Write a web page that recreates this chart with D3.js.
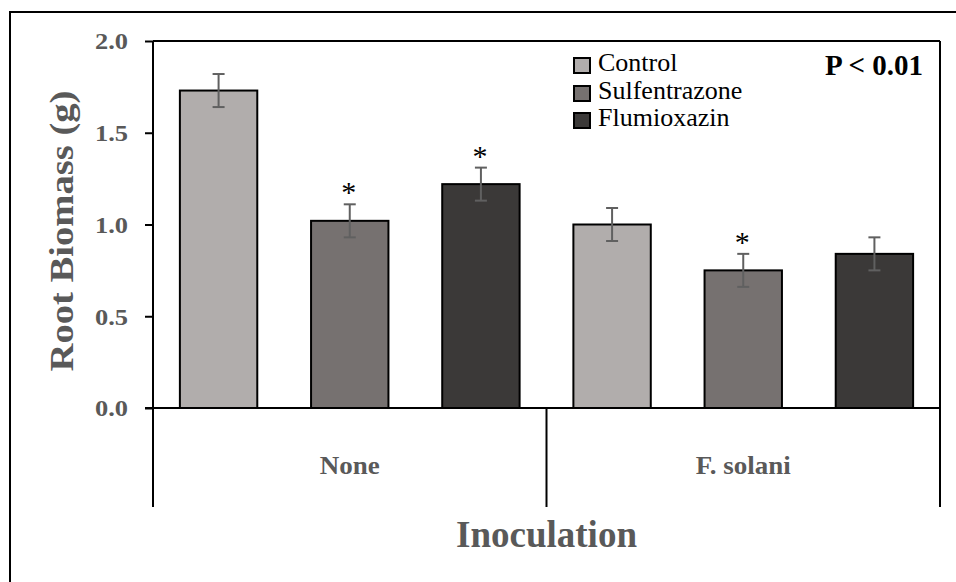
<!DOCTYPE html>
<html>
<head>
<meta charset="utf-8">
<script src="https://cdn.jsdelivr.net/npm/d3@7"></script>
<style>
  html, body { margin: 0; padding: 0; background: #fff; }
  svg { display: block; }
  svg text { font-family: "Liberation Serif", "Times New Roman", serif !important; }
</style>
</head>
<body>
<svg id="chart" width="956" height="582"></svg>
<script>
// ---- data ----
const groups = ["None", "F. solani"];
const series = ["Control", "Sulfentrazone", "Flumioxazin"];
const colors = ["#b1adac", "#767170", "#3b3938"];
const values = {
  "None":      [1.73, 1.02, 1.22],
  "F. solani": [1.00, 0.75, 0.84]
};
const errors = {
  "None":      [0.09, 0.09, 0.09],
  "F. solani": [0.09, 0.09, 0.09]
};
const significant = {
  "None":      [false, true, true],
  "F. solani": [false, true, false]
};
const yTicks = [0, 0.5, 1.0, 1.5, 2.0];
const yTitle = "Root Biomass (g)";
const xTitle = "Inoculation";
const pLabel = "P < 0.01";

// ---- layout ----
const FONT = "Liberation Serif, Times New Roman, serif";
const svg = d3.select("#chart");
const plotLeft = 153, plotRight = 940, plotTop = 41, zeroY = 408, bottomCat = 507;

// outer frame (right/bottom lie outside the picture)
svg.append("rect").attr("x", 10).attr("y", 12).attr("width", 980).attr("height", 620)
  .attr("fill", "none").attr("stroke", "#000").attr("stroke-width", 2);

const y = d3.scaleLinear().domain([0, 2.0]).range([zeroY, plotTop]);
const x0 = d3.scaleBand().domain(groups).range([plotLeft, plotRight]).padding(0);
const x1 = d3.scaleBand().domain(series).range([0, x0.bandwidth()])
  .paddingInner(0.41).paddingOuter(0.205);

// plot frame top and right
svg.append("line").attr("x1", plotLeft).attr("x2", plotRight).attr("y1", plotTop).attr("y2", plotTop)
  .attr("stroke", "#000").attr("stroke-width", 2);
svg.append("line").attr("x1", plotRight).attr("x2", plotRight).attr("y1", plotTop).attr("y2", bottomCat)
  .attr("stroke", "#000").attr("stroke-width", 2);

// y axis
const yAxis = d3.axisLeft(y).tickValues(yTicks).tickFormat(d3.format(".1f")).tickSize(8).tickPadding(0);
const gy = svg.append("g").attr("transform", `translate(${plotLeft},0)`).call(yAxis);
gy.select(".domain").remove();
gy.selectAll(".tick line").attr("stroke", "#000").attr("stroke-width", 2);
gy.selectAll(".tick text")
  .attr("x", 0).attr("dy", "0.34em")
  .attr("transform", "translate(-25,0) scale(1.15,1)")
  .attr("text-anchor", "end")
  .style("font-family", FONT).style("font-size", "23px").style("font-weight", "bold")
  .attr("fill", "#595959");
svg.append("line").attr("x1", plotLeft).attr("x2", plotLeft).attr("y1", plotTop).attr("y2", bottomCat)
  .attr("stroke", "#000").attr("stroke-width", 2);

// bars
const gBars = svg.append("g");
groups.forEach(g => {
  series.forEach((s, i) => {
    const bx = x0(g) + x1(s);
    const v = values[g][i];
    const e = errors[g][i];
    const cx = bx + x1.bandwidth() / 2;
    gBars.append("rect")
      .attr("x", bx).attr("y", y(v))
      .attr("width", x1.bandwidth()).attr("height", y(0) - y(v))
      .attr("fill", colors[i]).attr("stroke", "#000").attr("stroke-width", 2);
    const eg = gBars.append("g").attr("stroke", "#606060").attr("stroke-width", 2);
    eg.append("line").attr("x1", cx).attr("x2", cx).attr("y1", y(v + e)).attr("y2", y(v - e));
    eg.append("line").attr("x1", cx - 6).attr("x2", cx + 6).attr("y1", y(v + e)).attr("y2", y(v + e));
    eg.append("line").attr("x1", cx - 6).attr("x2", cx + 6).attr("y1", y(v - e)).attr("y2", y(v - e));
    if (significant[g][i]) {
      gBars.append("text").attr("x", cx - 1).attr("y", y(v + e) - 2)
        .attr("text-anchor", "middle").style("font-family", FONT).style("font-size", "30px")
        .attr("fill", "#000").text("*");
    }
  });
});

// x axis baseline
svg.append("line").attr("x1", plotLeft - 8).attr("x2", plotRight).attr("y1", zeroY).attr("y2", zeroY)
  .attr("stroke", "#000").attr("stroke-width", 2);

// category dividers
groups.slice(1).forEach(g => {
  const dx = x0(g);
  svg.append("line").attr("x1", dx).attr("x2", dx).attr("y1", zeroY).attr("y2", bottomCat)
    .attr("stroke", "#000").attr("stroke-width", 2);
});

// category labels
groups.forEach(g => {
  const cx = x0(g) + x0.bandwidth() / 2;
  svg.append("text").attr("transform", `translate(${cx},474) scale(1.08,1)`)
    .attr("text-anchor", "middle").style("font-family", FONT).style("font-size", "25px")
    .style("font-weight", "bold").attr("fill", "#595959").text(g);
});

// axis titles
svg.append("text").attr("x", (plotLeft + plotRight) / 2).attr("y", 547)
  .attr("text-anchor", "middle").style("font-family", FONT).style("font-size", "37px")
  .style("font-weight", "bold").attr("fill", "#595959").text(xTitle);
svg.append("text").attr("transform", "translate(73,231) rotate(-90) scale(1.17,1)")
  .attr("text-anchor", "middle").style("font-family", FONT).style("font-size", "33px")
  .style("font-weight", "bold").attr("fill", "#595959").text(yTitle);

// legend
const legendRows = [65, 93, 120];
series.forEach((s, i) => {
  svg.append("rect").attr("x", 574).attr("y", legendRows[i] - 7).attr("width", 16).attr("height", 15)
    .attr("fill", colors[i]).attr("stroke", "#000").attr("stroke-width", 2);
  svg.append("text").attr("x", 598).attr("y", legendRows[i] + 6)
    .style("font-family", FONT).style("font-size", "26px").attr("fill", "#000").text(s);
});

// p value
svg.append("text").attr("x", 923).attr("y", 75).attr("text-anchor", "end")
  .style("font-family", FONT).style("font-size", "29px").style("font-weight", "bold")
  .attr("fill", "#000").text(pLabel);
</script>
</body>
</html>
